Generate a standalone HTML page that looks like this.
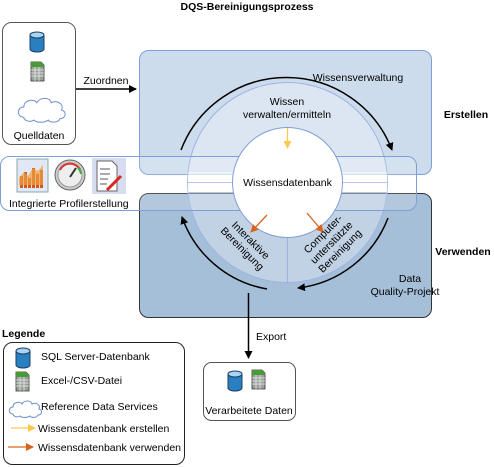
<!DOCTYPE html>
<html><head><meta charset="utf-8"><style>
body{margin:0;background:#fff}
svg{display:block;font-family:"Liberation Sans","DejaVu Sans",sans-serif}
</style></head><body>
<svg width="494" height="467" viewBox="0 0 494 467" xmlns="http://www.w3.org/2000/svg">
<defs>
<marker id="ab" markerWidth="8" markerHeight="8" refX="7" refY="4" orient="auto" markerUnits="userSpaceOnUse"><path d="M0,0 L8,4 L0,8 z" fill="#000"/></marker>
<marker id="ay" markerWidth="8" markerHeight="8" refX="7" refY="4" orient="auto" markerUnits="userSpaceOnUse"><path d="M0,0 L8,4 L0,8 z" fill="#fcc94a"/></marker>
<marker id="ao" markerWidth="8" markerHeight="8" refX="7" refY="4" orient="auto" markerUnits="userSpaceOnUse"><path d="M0,0 L8,4 L0,8 z" fill="#d9631a"/></marker>
<g id="db"><path d="M0,3 v14 a7,3 0 0 0 14,0 v-14" fill="#2a7fc0" stroke="#1b3f66"/><ellipse cx="7" cy="3" rx="7" ry="3" fill="#a8d4f2" stroke="#1b3f66"/></g>
<g id="xl"><path d="M0,0 h10 l3,3 v16 h-13z" fill="#9aa29a" stroke="#333" stroke-width="0.8"/><path d="M0,0 h10 l3,3 v2 h-13z" fill="#4a9a3a"/><path d="M0,8h13M0,11h13M0,14h13M4,5v14M8,5v14" stroke="#eee" stroke-width="0.7"/></g>
<g id="cl"><path d="M4,16 c-5,0 -5,-7 0,-7 c0,-5 7,-6 9,-3 c2,-4 9,-4 10,0 c4,-2 9,1 7,5 c4,1 3,6 -1,6 c-1,3 -7,3 -8,1 c-3,2 -8,2 -10,0 c-3,2 -7,0 -7,-2z" fill="#fff" stroke="#6e8fd0"/></g>
</defs>

<text x="247" y="10" font-size="10.5" font-weight="bold" text-anchor="middle">DQS-Bereinigungsprozess</text>

<!-- Quelldaten -->
<rect x="2.5" y="22.5" width="73" height="122" rx="9" fill="#fff" stroke="#555"/>
<use href="#db" x="30" y="32"/>
<use href="#xl" x="31" y="62"/>
<g transform="translate(18,94) scale(1.45)"><use href="#cl" stroke-width="0.7"/></g>
<text x="39" y="139" font-size="10.5" text-anchor="middle">Quelldaten</text>
<line x1="76" y1="89" x2="136" y2="89" stroke="#000" stroke-width="1.5" marker-end="url(#ab)"/>
<text x="106" y="84" font-size="10.5" text-anchor="middle">Zuordnen</text>

<!-- boxes -->
<rect x="139.5" y="50.5" width="292" height="124" rx="9" fill="#cddcec" stroke="#7f9ed8"/>
<rect x="139.5" y="193.5" width="292" height="124" rx="9" fill="#a6bfd8" stroke="#333"/>

<!-- ring -->
<circle cx="287.5" cy="182.5" r="100" fill="rgba(255,255,255,0.3)" stroke="#9fb3e2"/>
<rect x="188" y="172" width="199" height="20" fill="rgba(255,255,255,0.45)"/>
<line x1="188" y1="182.5" x2="387" y2="182.5" stroke="#a9bde4"/>
<line x1="188" y1="192.5" x2="387" y2="192.5" stroke="#a9bde4"/>
<line x1="287.5" y1="237" x2="287.5" y2="282" stroke="#9fb3e2"/>
<!-- profiler band -->
<rect x="0.5" y="156.5" width="416" height="54" rx="9" fill="rgba(255,255,255,0.15)" stroke="#7f9ed8"/>
<circle cx="287.5" cy="182.5" r="55" fill="#fff" stroke="#7f9ed8"/>

<!-- profiler icons -->
<rect x="17" y="159" width="31" height="33" fill="#dfe8f4" stroke="#8aa"/>
<path d="M20,188 v-12 h3 v12 M24,188 v-16 h3 v16 M28,188 v-10 h3 v10 M32,188 v-20 h3 v20 M36,188 v-14 h3 v14 M40,188 v-18 h3 v18" fill="#d6561c"/>
<path d="M19,178 l5,-6 l4,4 l5,-8 l5,3 l5,-6 v20 h-24z" fill="#f0a040" opacity="0.7"/>
<circle cx="70" cy="175" r="15" fill="#ccc" stroke="#666"/>
<circle cx="70" cy="175" r="12" fill="#eee" stroke="#999"/>
<path d="M60,170 a11,11 0 0 1 20,0" fill="none" stroke="#d33" stroke-width="2"/>
<path d="M78,168 a11,11 0 0 1 3,6" fill="none" stroke="#3b3" stroke-width="2"/>
<line x1="70" y1="177" x2="76" y2="168" stroke="#333" stroke-width="2"/>
<rect x="92" y="158" width="34" height="36" fill="#d8dcf0"/>
<path d="M97,161 h15 l5,5 v25 h-20z" fill="#fff" stroke="#666"/>
<path d="M100,169h10M100,174h10M100,179h8M100,184h7" stroke="#555"/>
<line x1="107" y1="190" x2="121" y2="176" stroke="#d22" stroke-width="3"/>
<text x="9" y="207" font-size="10.5">Integrierte Profilerstellung</text>

<!-- arcs -->
<path d="M181,150 A113,113 0 0 1 392,150" fill="none" stroke="#000" stroke-width="1.5" marker-end="url(#ab)"/>
<path d="M388,218 A110,110 0 0 1 298,288" fill="none" stroke="#000" stroke-width="1.5" marker-end="url(#ab)"/>
<path d="M267,289 A110,110 0 0 1 182,217" fill="none" stroke="#000" stroke-width="1.5" marker-end="url(#ab)"/>

<!-- inner arrows -->
<line x1="287.5" y1="128" x2="287.5" y2="148" stroke="#fcc94a" stroke-width="1.3" marker-end="url(#ay)"/>
<line x1="267" y1="215" x2="251" y2="232" stroke="#d9631a" stroke-width="1.3" marker-end="url(#ao)"/>
<line x1="307" y1="213" x2="323" y2="232" stroke="#d9631a" stroke-width="1.3" marker-end="url(#ao)"/>

<!-- labels -->
<text x="358" y="81" font-size="10.5" text-anchor="middle">Wissensverwaltung</text>
<text x="287" y="105" font-size="10.5" text-anchor="middle">Wissen</text>
<text x="287" y="118" font-size="10.5" text-anchor="middle">verwalten/ermitteln</text>
<text x="287.5" y="186" font-size="10.5" text-anchor="middle">Wissensdatenbank</text>
<text font-size="10.5" text-anchor="middle" transform="translate(244,247) rotate(45)"><tspan x="0" y="-6">Interaktive</tspan><tspan x="0" y="6">Bereinigung</tspan></text>
<text font-size="10.5" text-anchor="middle" transform="translate(334,245) rotate(-45)"><tspan x="0" y="-12">Computer-</tspan><tspan x="0" y="0">unterstützte</tspan><tspan x="0" y="12">Bereinigung</tspan></text>
<text x="410" y="282" font-size="10.5" text-anchor="middle">Data</text>
<text x="405" y="295" font-size="10.5" text-anchor="middle">Quality-Projekt</text>
<text x="466" y="118" font-size="10.5" font-weight="bold" text-anchor="middle">Erstellen</text>
<text x="463" y="255" font-size="10.5" font-weight="bold" text-anchor="middle">Verwenden</text>

<!-- export -->
<line x1="248.5" y1="293" x2="248.5" y2="358" stroke="#000" stroke-width="1.5" marker-end="url(#ab)"/>
<text x="256" y="340" font-size="10.5">Export</text>
<rect x="203.5" y="362.5" width="92" height="58" rx="8" fill="#fff" stroke="#555"/>
<use href="#db" x="228" y="371"/>
<use href="#xl" x="252" y="370"/>
<text x="249" y="414" font-size="10.5" text-anchor="middle">Verarbeitete Daten</text>

<!-- legend -->
<text x="2" y="337" font-size="10.5" font-weight="bold">Legende</text>
<rect x="3.5" y="342.5" width="181" height="122" rx="9" fill="#fff" stroke="#222"/>
<use href="#db" x="16" y="348"/>
<text x="41" y="360" font-size="10.5">SQL Server-Datenbank</text>
<use href="#xl" x="16" y="372"/>
<text x="41" y="384" font-size="10.5">Excel-/CSV-Datei</text>
<g transform="translate(9,398)"><use href="#cl"/></g>
<text x="41" y="410" font-size="10.5">Reference Data Services</text>
<line x1="11" y1="428" x2="35" y2="428" stroke="#fcc94a" stroke-width="1.3" marker-end="url(#ay)"/>
<text x="38" y="432" font-size="10.5">Wissensdatenbank erstellen</text>
<line x1="8" y1="447" x2="33" y2="447" stroke="#d9631a" stroke-width="1.3" marker-end="url(#ao)"/>
<text x="38" y="451" font-size="10.5">Wissensdatenbank verwenden</text>
</svg>
</body></html>
